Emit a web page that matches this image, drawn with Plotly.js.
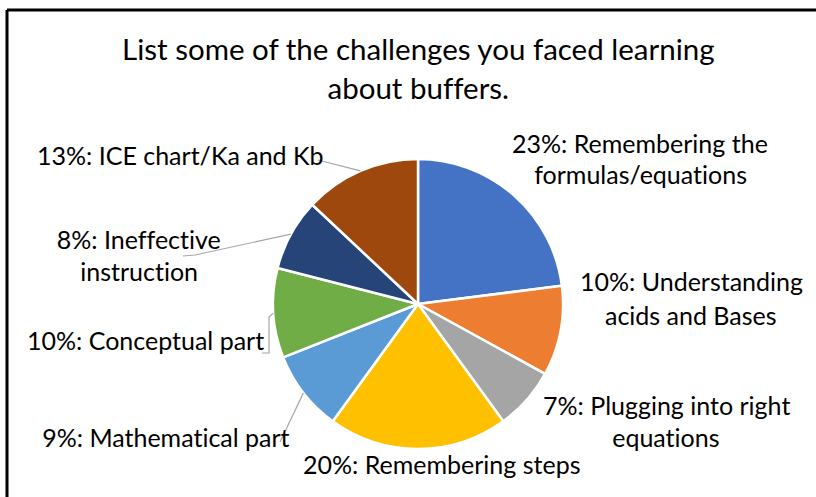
<!DOCTYPE html>
<html>
<head>
<meta charset="utf-8">
<script src="https://cdn.plot.ly/plotly-3.0.1.min.js"></script>
<style>html,body{margin:0;padding:0;background:#fff;}#chart{width:816px;height:497px;}
#chart text{font-variant-ligatures:none;font-feature-settings:"liga" 0, "clig" 0;}</style>
</head>
<body>
<div id="chart"></div>
<script>
// ---- data ----
const categories = [
  "Remembering the formulas/equations",
  "Understanding acids and Bases",
  "Plugging into right equations",
  "Remembering steps",
  "Mathematical part",
  "Conceptual part",
  "Ineffective instruction",
  "ICE chart/Ka and Kb"
];
const values = [23, 10, 7, 20, 9, 10, 8, 13];
// number of words kept on the first line of each label (0 = single line)
const firstLineWords = [2, 1, 3, 0, 0, 0, 1, 0];
const colors = ["#4472C4", "#ED7D31", "#A5A5A5", "#FFC000", "#5B9BD5", "#70AD47", "#264478", "#9E480E"];
const titleLines = ["List some of the challenges you faced learning", "about buffers."];

// ---- layout geometry ----
const W = 816, H = 497;
const CX = 418, CY = 304, R = 145;
const FONT = "Lato, 'Open Sans', sans-serif";
const px = x => x / W;
const py = y => 1 - y / H;

// label line centres (layout)
const labelPos = [
  [[640, 143], [640, 174]],
  [[691, 281], [691, 315]],
  [[666, 405], [666, 437]],
  [[441, 464]],
  [[166, 437]],
  [[145, 340]],
  [[139, 239], [139, 271]],
  [[180, 155]]
];
// leader line points on the label side (layout); slice end computed from data
const leaderFrom = {
  4: [[280, 442]],
  5: [[262, 353], [269, 353], [269, 317]],
  6: [[183, 256], [195, 255]],
  7: [[318, 160]]
};

const total = values.reduce((a, b) => a + b, 0);
const annotations = [];
const shapes = [];

// title
titleLines.forEach((t, i) => {
  annotations.push({
    text: t, xref: "paper", yref: "paper", x: px(419), y: py([49, 87][i]),
    xanchor: "center", yanchor: "middle", showarrow: false,
    font: {family: FONT, size: 29.5, color: "#000"}
  });
});

// labels
let cum = 0;
values.forEach((v, i) => {
  const words = (v + "%: " + categories[i]).split(" ");
  const n = firstLineWords[i] + 1; // include "xx%:" word
  const lines = firstLineWords[i] ? [words.slice(0, n).join(" "), words.slice(n).join(" ")] : [words.join(" ")];
  lines.forEach((ln, j) => {
    const p = labelPos[i][j];
    annotations.push({
      text: ln, xref: "paper", yref: "paper", x: px(p[0]), y: py(p[1]),
      xanchor: "center", yanchor: "middle", showarrow: false,
      font: {family: FONT, size: 25, color: "#000"}
    });
  });
  const mid = (cum + v / 2) / total;
  cum += v;
  if (leaderFrom[i]) {
    const th = 2 * Math.PI * mid;
    const tip = [CX + R * Math.sin(th), CY - R * Math.cos(th)];
    const pts = leaderFrom[i].concat([tip]);
    const path = pts.map((q, k) => (k ? "L" : "M") + px(q[0]).toFixed(5) + "," + py(q[1]).toFixed(5)).join(" ");
    shapes.push({type: "path", xref: "paper", yref: "paper", path: path,
      line: {color: "#A6A6A6", width: 1.2}});
  }
});

// frame (top and left edges)
shapes.push({type: "line", xref: "paper", yref: "paper", x0: px(7), x1: px(816), y0: py(10), y1: py(10), line: {color: "#000", width: 3}});
shapes.push({type: "line", xref: "paper", yref: "paper", x0: px(7), x1: px(7), y0: py(10), y1: py(497), line: {color: "#000", width: 3}});

const trace = {
  type: "pie",
  values: values,
  labels: categories,
  sort: false,
  direction: "clockwise",
  rotation: 0,
  textinfo: "none",
  hoverinfo: "label+percent",
  marker: {colors: colors, line: {color: "#fff", width: 2.5}},
  domain: {x: [px(CX - R), px(CX + R)], y: [py(CY + R), py(CY - R)]},
  showlegend: false
};

Plotly.newPlot("chart", [trace], {
  width: W, height: H,
  margin: {l: 0, r: 0, t: 0, b: 0},
  paper_bgcolor: "#fff",
  showlegend: false,
  annotations: annotations,
  shapes: shapes
}, {displayModeBar: false, staticPlot: true});
</script>
</body>
</html>
